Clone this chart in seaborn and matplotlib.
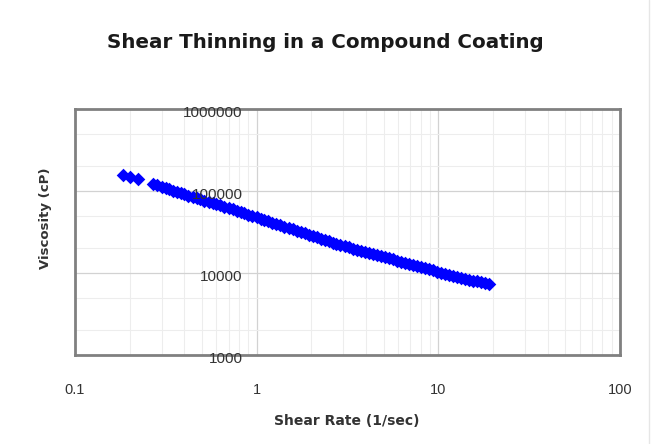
"""Shear thinning curve (viscosity vs shear rate), log-log scatter."""

import matplotlib
matplotlib.use("Agg")
import matplotlib.pyplot as plt
import pandas as pd
import seaborn as sns
from matplotlib.lines import Line2D
from matplotlib.ticker import LogLocator

sns.set_style("white")
plt.rcParams["font.family"] = ["Liberation Sans", "DejaVu Sans"]

# shear rate (1/sec)
shear_rate = [
    0.183, 0.201, 0.223,
    0.27, 0.284, 0.30, 0.316, 0.33, 0.347, 0.365, 0.384, 0.40, 0.421,
    0.445, 0.468, 0.49, 0.516, 0.545, 0.573, 0.60, 0.631, 0.665, 0.70,
    0.74, 0.778, 0.815, 0.857, 0.90, 0.947, 1.0, 1.052, 1.1, 1.157,
    1.22, 1.283, 1.35, 1.42, 1.5, 1.578, 1.66, 1.746, 1.84, 1.936,
    2.03, 2.136, 2.25, 2.367, 2.5, 2.63, 2.75, 2.893, 3.05, 3.209,
    3.4, 3.577, 3.75, 3.945, 4.15, 4.366, 4.6, 4.839, 5.1, 5.365,
    5.6, 5.891, 6.2, 6.522, 6.9, 7.259, 7.6, 7.995, 8.4, 8.837,
    9.3, 9.784, 10.3, 10.84, 11.4, 11.99, 12.6, 13.26, 14.0, 14.73,
    15.5, 16.31, 17.1, 17.99, 18.9,
]
# viscosity (cP)
viscosity = [
    156700, 149400, 140100,
    121700, 117400, 113200, 109100, 105200, 101400, 97800, 94300, 90900, 87600,
    84500, 81700, 79000, 76400, 73850, 71400, 69000, 66630, 64340, 62030,
    59800, 57580, 55440, 53380, 51400, 49560, 47780, 46010, 44300, 42650,
    41060, 39580, 38160, 36740, 35380, 34070, 32800, 31620, 30490, 29350,
    28260, 27210, 26200, 25260, 24350, 23450, 22580, 21860, 21170, 20490,
    19840, 19240, 18650, 18080, 17530, 17000, 16490, 16010, 15540, 15070,
    14610, 14160, 13730, 13330, 12950, 12550, 12170, 11800, 11440, 11090,
    10760, 10430, 10110, 9805, 9510, 9246, 8990, 8740, 8500, 8287,
    8080, 7898, 7720, 7550, 7385,
]

x_ticks = [0.1, 1, 10, 100]
x_tick_labels = ["0.1", "1", "10", "100"]
y_ticks = [1000, 10000, 100000, 1000000]
y_tick_labels = ["1000", "10000", "100000", "1000000"]

df = pd.DataFrame({"rate": shear_rate, "visc": viscosity})

fig = plt.figure(figsize=(6.52, 4.44), dpi=100)
ax = fig.add_axes([75 / 652, 1 - 355 / 444, 545 / 652, 246 / 444])

ax.set_xscale("log")
ax.set_yscale("log")
ax.set_xlim(0.1, 100)
ax.set_ylim(1000, 1000000)
ax.yaxis.set_minor_locator(LogLocator(base=10, subs=(2.0, 5.0)))

# grid
ax.grid(True, which="major", color="#d2d2d2", linewidth=0.9)
ax.grid(True, which="minor", color="#ededed", linewidth=0.8)
ax.set_axisbelow(True)

sns.scatterplot(data=df, x="rate", y="visc", ax=ax, marker="D", s=48,
                color="#0000ff", linewidth=0, zorder=3)

ax.set_xlabel("")
ax.set_ylabel("")

# x ticks below
ax.set_xticks(x_ticks)
ax.set_xticklabels(x_tick_labels)
ax.tick_params(axis="x", which="both", length=0, pad=20, labelsize=10.5,
               labelcolor="#333333")
ax.set_yticks(y_ticks)
ax.set_yticklabels([])
ax.tick_params(axis="y", which="both", length=0)

# y tick labels sit inside the plot area
for v, lbl in zip(y_ticks, y_tick_labels):
    ax.annotate(lbl, xy=(0.308, v), xycoords=("axes fraction", "data"),
                xytext=(0, -4), textcoords="offset pixels",
                ha="right", va="center", fontsize=11, color="#333333",
                zorder=4)

for sp in ax.spines.values():
    sp.set_color("#808080")
    sp.set_linewidth(2)

fig.text(325 / 652, 1 - 43 / 444, "Shear Thinning in a Compound Coating",
         ha="center", va="center", fontsize=14.3, fontweight="bold",
         family=["DejaVu Sans"], color="#1a1a1a")
fig.text(347 / 652, 1 - 421 / 444, "Shear Rate (1/sec)", ha="center",
         va="center", fontsize=10, fontweight="bold", family=["DejaVu Sans"],
         color="#333333")
fig.text(45 / 652, 1 - 218 / 444, "Viscosity (cP)", ha="center",
         va="center", rotation=90, fontsize=9.5, fontweight="bold",
         family=["DejaVu Sans"], color="#333333")

# thin page edge on the right
fig.add_artist(Line2D([649 / 652, 649 / 652], [0, 1],
                      transform=fig.transFigure, color="#e6e6e6",
                      linewidth=1))

fig.savefig("out.png", dpi=100)
